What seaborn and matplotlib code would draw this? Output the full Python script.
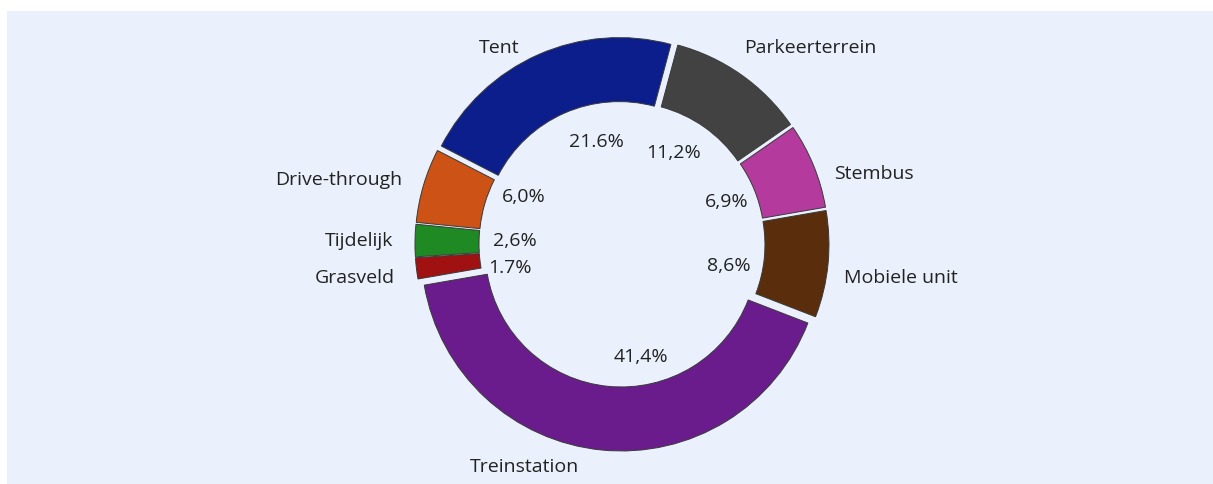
"""
Donut chart: share of test location types.
"""
import matplotlib.pyplot as plt
from matplotlib.patches import Rectangle
import seaborn as sns

# Data (clockwise, starting right of the top)
categories = ['Parkeerterrein', 'Stembus', 'Mobiele unit', 'Treinstation',
              'Grasveld', 'Tijdelijk', 'Drive-through', 'Tent']
shares = [11.2, 6.9, 8.6, 41.4, 1.7, 2.6, 6.0, 21.6]
pct_labels = ['11,2%', '6,9%', '8,6%', '41,4%', '1.7%', '2,6%', '6,0%', '21.6%']
slice_colors = ['#424242', '#b43a9e', '#5a2e0c', '#6a1c8c',
                '#a01212', '#1f8a24', '#cc5216', '#0b1e8c']

# small hand nudges of the labels (data units), like the original layout
label_nudge = {
    'Parkeerterrein': (-0.05, 0.05),
    'Stembus': (0.0, -0.08),
    'Mobiele unit': (-0.03, -0.05),
    'Treinstation': (-0.1, 0.03),
    'Grasveld': (0.0, -0.03),
    'Tent': (-0.05, -0.06),
}
pct_nudge = {
    '11,2%': (-0.07, 0.0),
    '8,6%': (-0.03, -0.05),
    '41,4%': (0.15, 0.0),
    '1.7%': (0.0, -0.05),
    '2,6%': (0.03, 0.01),
    '6,0%': (0.05, 0.08),
    '21.6%': (0.1, 0.0),
}


def nudge(text_objs, offsets):
    for t in text_objs:
        dx, dy = offsets.get(t.get_text(), (0.0, 0.0))
        x, y = t.get_position()
        t.set_position((x + dx, y + dy))


sns.set_theme(style='white')
plt.rcParams['font.family'] = ['Open Sans', 'DejaVu Sans']

W, H = 1213, 485
fig = plt.figure(figsize=(W / 100, H / 100), dpi=100)
fig.patch.set_facecolor('white')

# light blue panel under the chart
fig.patches.append(Rectangle((7 / W, 0), (W - 7) / W, 473 / H,
                             transform=fig.transFigure, facecolor='#eaf1fc',
                             edgecolor='none', zorder=-5))

ax = fig.add_axes([0, 0, 1, 1], zorder=2)
ax.set_facecolor('none')

palette = sns.color_palette(slice_colors)
wedges, texts, autotexts = ax.pie(
    shares, labels=categories, colors=palette,
    startangle=75, counterclock=False,
    explode=[0.035] * len(shares),
    labeldistance=1.11, pctdistance=0.53,
    autopct=lambda p: '',
    wedgeprops=dict(width=0.32, edgecolor='#3a3a3a', linewidth=0.7),
    textprops=dict(fontsize=14, color='#222222'),
)

for t, lab in zip(autotexts, pct_labels):
    t.set_text(lab)
    t.set_fontsize(14)
    t.set_color('#222222')

nudge(texts, label_nudge)
nudge(autotexts, pct_nudge)

scale = 200.0  # pixels per data unit
cx, cy = 622, 240  # pie centre, pixels from bottom-left
ax.set_xlim(-cx / scale, (W - cx) / scale)
ax.set_ylim(-cy / scale, (H - cy) / scale)
ax.axis('off')

fig.savefig('out.png', dpi=100, facecolor=fig.get_facecolor())
plt.close(fig)
